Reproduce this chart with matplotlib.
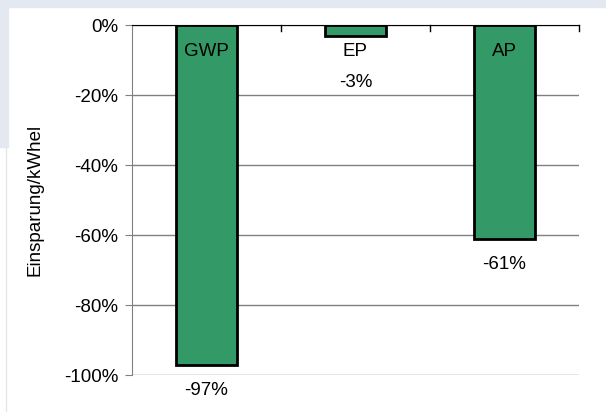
import matplotlib.pyplot as plt
from matplotlib.patches import Rectangle
from matplotlib.lines import Line2D

categories = ["GWP", "EP", "AP"]
values = [-97, -3, -61]
y_ticks = [0, -20, -40, -60, -80, -100]

plt.rcParams['font.family'] = ['Liberation Sans', 'DejaVu Sans']

fig = plt.figure(figsize=(6.06, 4.12), dpi=100)
fig.patch.set_facecolor('white')
# slide-like background bits
fig.patches.append(Rectangle((0, 1 - 7 / 412), 1, 7 / 412, transform=fig.transFigure,
                             color='#e3e8f1', zorder=0))
fig.patches.append(Rectangle((0, 1 - 147 / 412), 8 / 606, 147 / 412, transform=fig.transFigure,
                             color='#e3e8f1', zorder=0))
fig.lines.append(Line2D([6 / 606, 6 / 606], [0, 1 - 147 / 412], transform=fig.transFigure,
                        color='#e6e6e6', lw=1))

ax = fig.add_axes([132 / 606, 1 - 375 / 412, 447 / 606, 350 / 412])
x = list(range(len(categories)))
ax.bar(x, values, width=0.41, color='#339966', edgecolor='black', linewidth=2, zorder=3)

ax.set_xlim(-0.5, len(categories) - 0.5)
ax.set_ylim(-100, 0)
ax.set_yticks(y_ticks)
ax.set_yticklabels([f"{t}%" for t in y_ticks], fontsize=13.5)
ax.yaxis.grid(True, color='#808080', lw=1, zorder=0)
ax.tick_params(axis='y', length=5, color='#808080', pad=5)
ax.set_xticks([])

for s in ['right', 'bottom']:
    ax.spines[s].set_visible(False)
ax.spines['left'].set_color('#808080')
ax.spines['top'].set_color('black')
ax.spines['top'].set_zorder(4)

# category tick marks on the zero line
for b in range(1, len(categories) + 1):
    ax.plot([b - 0.5, b - 0.5], [0, -1.6], color='black', lw=1, clip_on=False, zorder=4)

for i, (c, v) in enumerate(zip(categories, values)):
    ax.text(i, -7.7, c, ha='center', va='center', fontsize=13.5, zorder=5)
    ly = v - 7.5 if v < -12 else -16.3
    ax.text(i, ly, f"{v}%", ha='center', va='center', fontsize=13.5, zorder=5)

ax.set_ylabel("Einsparung/kWhel", fontsize=13.5)
ax.yaxis.set_label_coords(-0.198, 0.5)

fig.savefig('out.png', dpi=100)
